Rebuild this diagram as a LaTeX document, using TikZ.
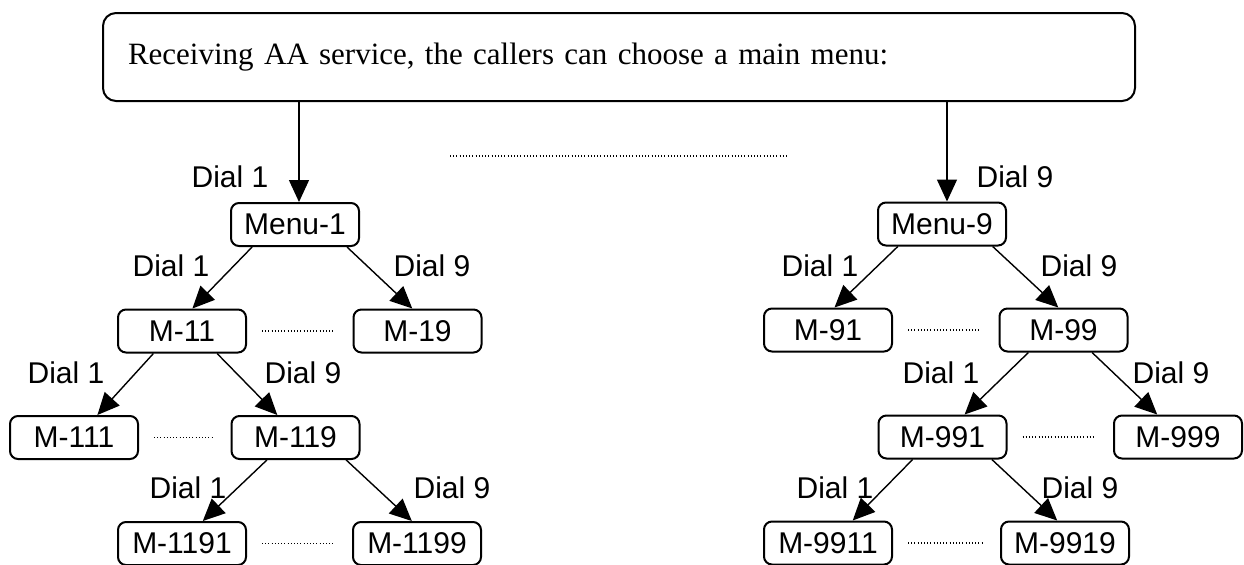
\documentclass[tikz,border=0pt]{standalone}
\usepackage{fontspec}
\setmainfont{Liberation Serif}
\setsansfont{Liberation Sans}
\usetikzlibrary{arrows.meta,calc}

\tikzset{
  menubox/.style={draw, line width=1pt, rounded corners=4pt, minimum width=64pt,
    minimum height=21.5pt, inner sep=0pt, font=\sffamily\fontsize{15}{18}\selectfont},
  topbox/.style={draw, line width=1pt, rounded corners=6.5pt, minimum width=516pt,
    minimum height=44pt, inner xsep=12.5pt, text width=491pt, align=left,
    font=\rmfamily\fontsize{15.5}{18}\selectfont},
  link/.style={-{Triangle[length=11pt,width=10pt]}, line width=0.7pt},
  dotline/.style={line width=0.6pt, dash pattern=on 0.5pt off 1.1pt},
  dial/.style={inner sep=0pt, font=\sffamily\fontsize{15}{18}\selectfont}
}

\begin{document}
\begin{tikzpicture}[x=0.5pt, y=-0.5pt]
    \useasboundingbox (0,0) rectangle (1244,564);
    \clip (0,0) rectangle (1244,564);

    % Main menu
    \node[topbox] (mainbox) at (619,57) {Receiving AA service, the callers can choose a main menu:};
    \coordinate (gapL) at (450,156);
    \coordinate (gapR) at (787,156);
    \draw[dotline] (gapL) -- (gapR);

    % Left tree
    \node[menubox] (menu1) at (295,224.5) {Menu-1};
    \node[menubox] (m11) at (182,331) {M-11};
    \node[menubox] (m19) at (417.5,331) {M-19};
    \node[menubox] (m111) at (74,437.5) {M-111};
    \node[menubox] (m119) at (295.5,437.5) {M-119};
    \node[menubox] (m1191) at (182,543.5) {M-1191};
    \node[menubox] (m1199) at (417,543.5) {M-1199};

    % Right tree
    \node[menubox] (menu9) at (942,224) {Menu-9};
    \node[menubox] (m91) at (828,330) {M-91};
    \node[menubox] (m99) at (1063.5,330) {M-99};
    \node[menubox] (m991) at (942.5,437) {M-991};
    \node[menubox] (m999) at (1178,437) {M-999};
    \node[menubox] (m9911) at (828,543) {M-9911};
    \node[menubox] (m9919) at (1065,543) {M-9919};

    % Arrows
    \draw[link] ([xshift=2pt]menu1.north |- mainbox.south) -- ([xshift=2pt]menu1.north);
    \draw[link] ([xshift=2.5pt]menu9.north |- mainbox.south) -- ([xshift=2.5pt]menu9.north);
    \draw[link] ($(menu1.south west)!.17!(menu1.south east)$) -- ($(m11.north west)!.58!(m11.north east)$);
    \draw[link] ($(menu1.south west)!.9!(menu1.south east)$) -- ($(m19.north west)!.46!(m19.north east)$);
    \draw[link] ($(m11.south west)!.28!(m11.south east)$) -- ($(m111.north west)!.68!(m111.north east)$);
    \draw[link] ($(m11.south west)!.77!(m11.south east)$) -- ($(m119.north west)!.36!(m119.north east)$);
    \draw[link] ($(m119.south west)!.28!(m119.south east)$) -- ($(m1191.north west)!.66!(m1191.north east)$);
    \draw[link] ($(m119.south west)!.89!(m119.south east)$) -- ($(m1199.north west)!.46!(m1199.north east)$);
    \draw[link] ($(menu9.south west)!.16!(menu9.south east)$) -- ($(m91.north west)!.55!(m91.north east)$);
    \draw[link] ($(menu9.south west)!.89!(menu9.south east)$) -- ($(m99.north west)!.46!(m99.north east)$);
    \draw[link] ($(m99.south west)!.23!(m99.south east)$) -- ($(m991.north west)!.67!(m991.north east)$);
    \draw[link] ($(m99.south west)!.72!(m99.south east)$) -- ($(m999.north west)!.34!(m999.north east)$);
    \draw[link] ($(m991.south west)!.27!(m991.south east)$) -- ($(m9911.north west)!.69!(m9911.north east)$);
    \draw[link] ($(m991.south west)!.88!(m991.south east)$) -- ($(m9919.north west)!.44!(m9919.north east)$);

    % Dotted links
    \draw[dotline, shorten <=7.5pt, shorten >=9pt] (m11) -- (m19);
    \draw[dotline, shorten <=7.5pt, shorten >=9pt] (m111) -- (m119);
    \draw[dotline, shorten <=7.5pt, shorten >=9pt] (m1191) -- (m1199);
    \draw[dotline, shorten <=7.5pt, shorten >=9pt] (m91) -- (m99);
    \draw[dotline, shorten <=7.5pt, shorten >=9pt] (m991) -- (m999);
    \draw[dotline, shorten <=7.5pt, shorten >=9pt] (m9911) -- (m9919);

    % Labels
    \node[dial] (d1) at (230,177) {Dial 1};
    \node[dial] (d9) at (1015,177) {Dial 9};
    \node[dial] (d11) at (171,266) {Dial 1};
    \node[dial] (d19) at (432,266) {Dial 9};
    \node[dial] (d111) at (66,373) {Dial 1};
    \node[dial] (d119) at (303,373) {Dial 9};
    \node[dial] (d1191) at (188,488) {Dial 1};
    \node[dial] (d1199) at (452,488) {Dial 9};
    \node[dial] (d91) at (820,266) {Dial 1};
    \node[dial] (d99) at (1079,266) {Dial 9};
    \node[dial] (d991) at (941,373) {Dial 1};
    \node[dial] (d999) at (1171,373) {Dial 9};
    \node[dial] (d9911) at (835,488) {Dial 1};
    \node[dial] (d9919) at (1080,488) {Dial 9};
\end{tikzpicture}
\end{document}
